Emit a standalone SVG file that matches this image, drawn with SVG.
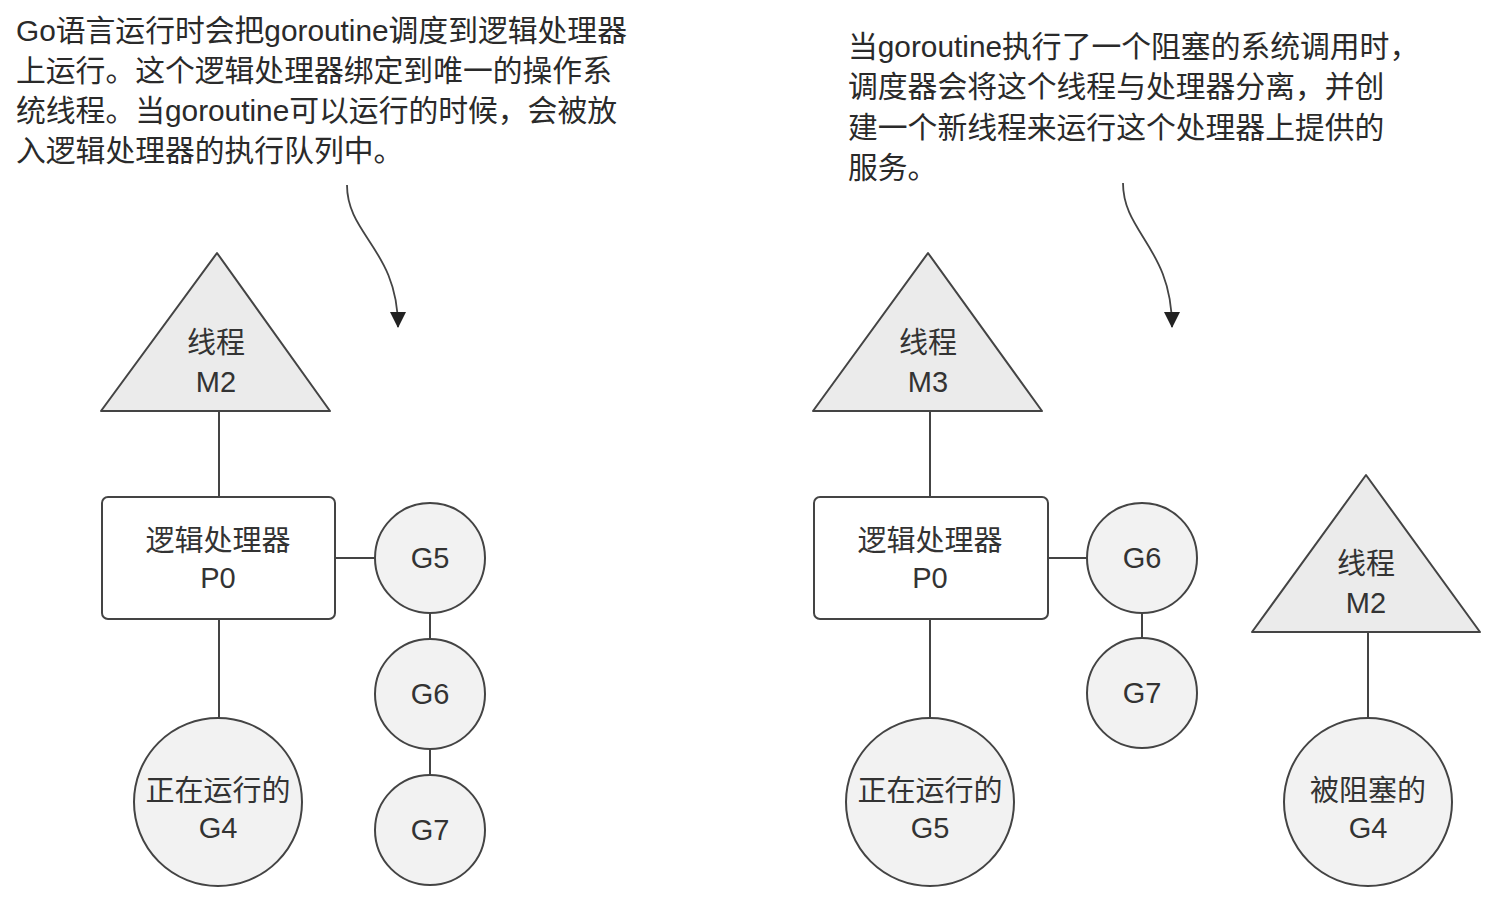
<svg xmlns="http://www.w3.org/2000/svg" width="1500" height="900" viewBox="0 0 1500 900">
<defs>
<marker id="ah" markerUnits="userSpaceOnUse" markerWidth="18" markerHeight="16" refX="15" refY="8" orient="auto" viewBox="0 0 16 16">
<path d="M0,0 L16,8 L0,16 Z" fill="#222"/>
</marker>
</defs>
<style>
text{font-family:"Liberation Sans","Noto Sans CJK SC",sans-serif;font-size:29px;fill:#333;}
.note{font-size:29.8px;fill:#2a2a2a;}
.lbl{text-anchor:middle;}
.tri{fill:#ebebeb;stroke:#444;stroke-width:2;stroke-linejoin:round;}
.box{fill:#fff;stroke:#444;stroke-width:2;}
.g{fill:#f2f2f2;stroke:#444;stroke-width:2;}
.c{stroke:#444;stroke-width:2;fill:none;}
.arr{stroke:#444;stroke-width:1.8;fill:none;}
</style>
<rect width="1500" height="900" fill="#fff"/>

<g id="note-left" class="note">
<text class="note" x="16" y="41">Go语言运行时会把goroutine调度到逻辑处理器</text>
<text class="note" x="16" y="81">上运行。这个逻辑处理器绑定到唯一的操作系</text>
<text class="note" x="16" y="121">统线程。当goroutine可以运行的时候，会被放</text>
<text class="note" x="16" y="161">入逻辑处理器的执行队列中。</text>
</g>
<g id="note-right">
<text class="note" x="848" y="57">当goroutine执行了一个阻塞的系统调用时，</text>
<text class="note" x="848" y="97">调度器会将这个线程与处理器分离，并创</text>
<text class="note" x="848" y="138">建一个新线程来运行这个处理器上提供的</text>
<text class="note" x="848" y="178">服务。</text>
</g>

<g id="connectors">
<path class="arr" d="M347,185 C347,235 398,250 398,327" marker-end="url(#ah)"/>
<path class="arr" d="M1123,183 C1123,233 1172,248 1172,327" marker-end="url(#ah)"/>
<line class="c" x1="219" y1="411" x2="219" y2="497"/>
<line class="c" x1="219" y1="619" x2="219" y2="718"/>
<line class="c" x1="335" y1="558" x2="375" y2="558"/>
<line class="c" x1="430" y1="613" x2="430" y2="639"/>
<line class="c" x1="430" y1="749" x2="430" y2="775"/>
<line class="c" x1="930" y1="411" x2="930" y2="497"/>
<line class="c" x1="930" y1="619" x2="930" y2="718"/>
<line class="c" x1="1048" y1="558" x2="1087" y2="558"/>
<line class="c" x1="1142" y1="613" x2="1142" y2="638"/>
<line class="c" x1="1368" y1="632" x2="1368" y2="718"/>
</g>

<g id="m2-left">
<polygon class="tri" points="217,253 330,411 101,411"/>
<text class="lbl" x="216" y="353">线程</text>
<text class="lbl" x="216" y="392">M2</text>
</g>
<g id="p0-left">
<rect class="box" x="102" y="497" width="233" height="122" rx="6"/>
<text class="lbl" x="218" y="551">逻辑处理器</text>
<text class="lbl" x="218" y="588">P0</text>
</g>
<g id="g5-left">
<circle class="g" cx="430" cy="558" r="55"/>
<text class="lbl" x="430" y="568">G5</text>
</g>
<g id="g6-left">
<circle class="g" cx="430" cy="694" r="55"/>
<text class="lbl" x="430" y="704">G6</text>
</g>
<g id="g7-left">
<circle class="g" cx="430" cy="830" r="55"/>
<text class="lbl" x="430" y="840">G7</text>
</g>
<g id="g4-left">
<circle class="g" cx="218" cy="802" r="84"/>
<text class="lbl" x="218" y="801">正在运行的</text>
<text class="lbl" x="218" y="838">G4</text>
</g>

<g id="m3-right">
<polygon class="tri" points="928,253 1042,411 813,411"/>
<text class="lbl" x="928" y="353">线程</text>
<text class="lbl" x="928" y="392">M3</text>
</g>
<g id="p0-right">
<rect class="box" x="814" y="497" width="234" height="122" rx="6"/>
<text class="lbl" x="930" y="551">逻辑处理器</text>
<text class="lbl" x="930" y="588">P0</text>
</g>
<g id="g6-right">
<circle class="g" cx="1142" cy="558" r="55"/>
<text class="lbl" x="1142" y="568">G6</text>
</g>
<g id="g7-right">
<circle class="g" cx="1142" cy="693" r="55"/>
<text class="lbl" x="1142" y="703">G7</text>
</g>
<g id="g5-right">
<circle class="g" cx="930" cy="802" r="84"/>
<text class="lbl" x="930" y="801">正在运行的</text>
<text class="lbl" x="930" y="838">G5</text>
</g>
<g id="m2-right">
<polygon class="tri" points="1366,475 1480,632 1252,632"/>
<text class="lbl" x="1366" y="574">线程</text>
<text class="lbl" x="1366" y="613">M2</text>
</g>
<g id="g4-right">
<circle class="g" cx="1368" cy="802" r="84"/>
<text class="lbl" x="1368" y="801">被阻塞的</text>
<text class="lbl" x="1368" y="838">G4</text>
</g>
</svg>
